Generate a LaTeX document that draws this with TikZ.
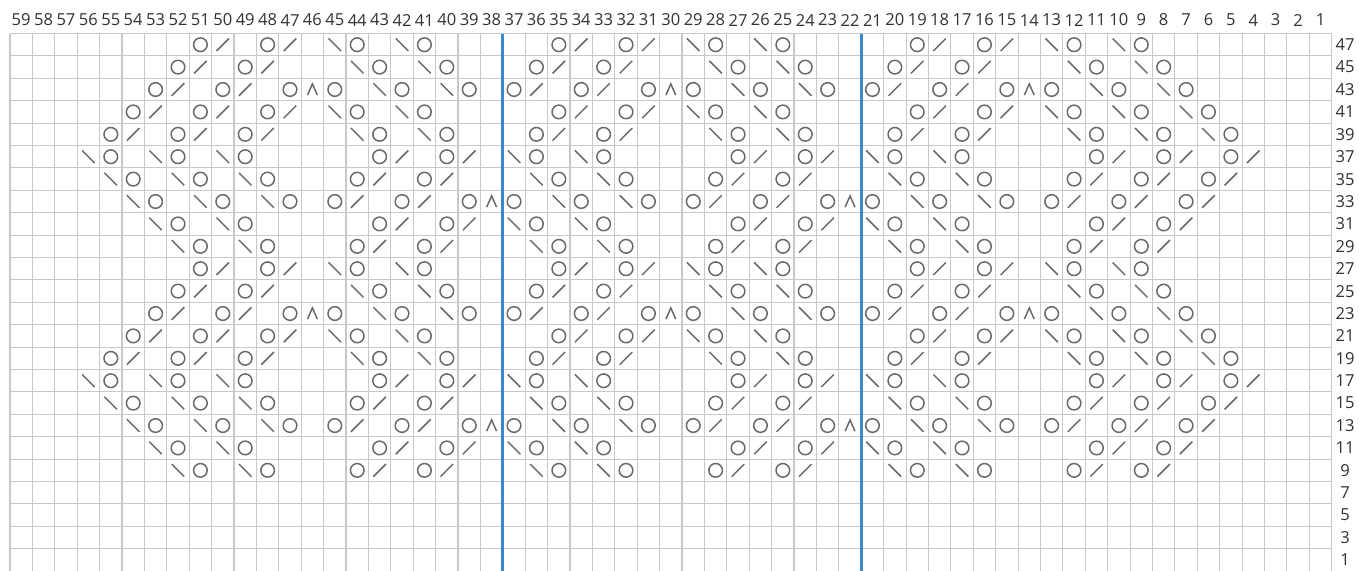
\documentclass[tikz,border=0pt]{standalone}
\usepackage{fontspec}
\setmainfont{Open Sans}
\definecolor{gridgray}{RGB}{200,200,200}
\definecolor{repblue}{RGB}{58,136,200}
\definecolor{stitchgray}{RGB}{105,105,105}
\definecolor{lblgray}{RGB}{50,50,50}
% chart symbols, #1 = cell centre
\newcommand{\symo}[1]{\draw[stitch] (#1) circle (0.152);}
\newcommand{\symk}[1]{\draw[stitch, shift={(#1)}] (-0.14,-0.14) -- (0.14,0.14);}
\newcommand{\syms}[1]{\draw[stitch, shift={(#1)}] (-0.14,0.14) -- (0.14,-0.14);}
\newcommand{\syma}[1]{\draw[stitch, shift={(#1)}] (-0.11,-0.125) -- (0,0.125) -- (0.11,-0.125);}
\tikzset{
  gridln/.style={draw=gridgray, line width=0.7pt, step=0.5},
  repln/.style={draw=repblue, line width=1.9pt},
  stitch/.style={draw=stitchgray, line width=0.95pt},
  numlbl/.style={font=\fontsize{10.5}{12}\selectfont, text=lblgray, inner sep=0pt},
}

\begin{document}
\begin{tikzpicture}
    \useasboundingbox (-0.223,-11.975) rectangle (30.11,0.748);
    \draw[gridln] (0,-12) grid (29.5,0);
    \draw[repln] (11,0) -- (11,-12);
    \draw[repln] (19,0) -- (19,-12);
    % column and row numbers
    \foreach \c in {1,...,59}
      \node[numlbl] (col\c) at ({29.75-0.5*\c},0.30) {\c};
    \foreach \r in {1,3,...,47}
      \node[numlbl] (row\r) at (29.80,{(\r-48)/4}) {\r};
    % rows 47-29, repeated 10 rows lower for 27-9
    \foreach \r/\cells in {
      47/{51/o,50/k,48/o,47/k,45/s,44/o,42/s,41/o,35/o,34/k,32/o,31/k,29/s,28/o,26/s,25/o,19/o,18/k,16/o,15/k,13/s,12/o,10/s,9/o},
      45/{52/o,51/k,49/o,48/k,44/s,43/o,41/s,40/o,36/o,35/k,33/o,32/k,28/s,27/o,25/s,24/o,20/o,19/k,17/o,16/k,12/s,11/o,9/s,8/o},
      43/{53/o,52/k,50/o,49/k,47/o,46/a,45/o,43/s,42/o,40/s,39/o,37/o,36/k,34/o,33/k,31/o,30/a,29/o,27/s,26/o,24/s,23/o,21/o,20/k,18/o,17/k,15/o,14/a,13/o,11/s,10/o,8/s,7/o},
      41/{54/o,53/k,51/o,50/k,48/o,47/k,45/s,44/o,42/s,41/o,35/o,34/k,32/o,31/k,29/s,28/o,26/s,25/o,19/o,18/k,16/o,15/k,13/s,12/o,10/s,9/o,7/s,6/o},
      39/{55/o,54/k,52/o,51/k,49/o,48/k,44/s,43/o,41/s,40/o,36/o,35/k,33/o,32/k,28/s,27/o,25/s,24/o,20/o,19/k,17/o,16/k,12/s,11/o,9/s,8/o,6/s,5/o},
      37/{56/s,55/o,53/s,52/o,50/s,49/o,43/o,42/k,40/o,39/k,37/s,36/o,34/s,33/o,27/o,26/k,24/o,23/k,21/s,20/o,18/s,17/o,11/o,10/k,8/o,7/k,5/o,4/k},
      35/{55/s,54/o,52/s,51/o,49/s,48/o,44/o,43/k,41/o,40/k,36/s,35/o,33/s,32/o,28/o,27/k,25/o,24/k,20/s,19/o,17/s,16/o,12/o,11/k,9/o,8/k,6/o,5/k},
      33/{54/s,53/o,51/s,50/o,48/s,47/o,45/o,44/k,42/o,41/k,39/o,38/a,37/o,35/s,34/o,32/s,31/o,29/o,28/k,26/o,25/k,23/o,22/a,21/o,19/s,18/o,16/s,15/o,13/o,12/k,10/o,9/k,7/o,6/k},
      31/{53/s,52/o,50/s,49/o,43/o,42/k,40/o,39/k,37/s,36/o,34/s,33/o,27/o,26/k,24/o,23/k,21/s,20/o,18/s,17/o,11/o,10/k,8/o,7/k},
      29/{52/s,51/o,49/s,48/o,44/o,43/k,41/o,40/k,36/s,35/o,33/s,32/o,28/o,27/k,25/o,24/k,20/s,19/o,17/s,16/o,12/o,11/k,9/o,8/k}}{
      \foreach \dy in {0,-5}{
        \foreach \c/\s in \cells {
          \pgfmathsetmacro\xx{29.75-0.5*\c}
          \pgfmathsetmacro\yy{(\r-48)/4+\dy}
          \csname sym\s\endcsname{\xx,\yy}
        }
      }
    }
\end{tikzpicture}
\end{document}
